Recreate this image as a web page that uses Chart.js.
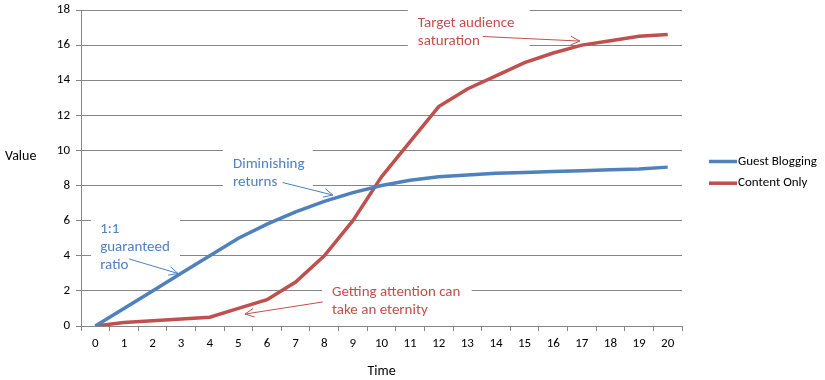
<!DOCTYPE html>
<html><head><meta charset="utf-8">
<script src="https://cdn.jsdelivr.net/npm/chart.js@4.4.0/dist/chart.umd.min.js"></script>
<style>html,body{margin:0;padding:0;background:#fff;}#wrap{width:825px;height:380px;position:relative;}</style>
</head><body><div id="wrap"><canvas id="c"></canvas></div>
<script>
// ---- data ----
const timeLabels = ['0','1','2','3','4','5','6','7','8','9','10','11','12','13','14','15','16','17','18','19','20'];
const seriesNames = ['Guest Blogging', 'Content Only'];
const guestBlogging = [0, 1, 2, 3, 4, 5, 5.8, 6.5, 7.1, 7.6, 8.0, 8.3, 8.5, 8.6, 8.7, 8.75, 8.8, 8.85, 8.9, 8.95, 9.05];
const contentOnly = [0, 0.2, 0.3, 0.4, 0.5, 1.0, 1.5, 2.5, 4.0, 6.0, 8.5, 10.5, 12.5, 13.5, 14.25, 15.0, 15.55, 16.0, 16.25, 16.5, 16.6];
const yMin = 0, yMax = 18, yStep = 2;
const axisTitles = {x: 'Time', y: 'Value'};

const BLUE = '#4F81BD', RED = '#C0504D', GRID = '#868686';
const FONT = "Carlito, Lato, 'Open Sans', sans-serif";

// annotations in data coordinates (x: category index, y: value)
const annotations = [
  {lines:['Target audience','saturation'], color:RED, text:[11.27, 17.26],
   box:[10.92, 18.34, 15.18, 15.66], arrow:[13.54, 16.49, 16.93, 16.23]},
  {lines:['Diminishing','returns'], color:BLUE, text:[4.81, 9.23],
   box:[4.46, 10.31, 7.60, 7.46], arrow:[6.55, 8.17, 8.30, 7.46]},
  {lines:['1:1','guaranteed','ratio'], color:BLUE, text:[0.17, 5.53],
   box:[-0.15, 6.38, 2.96, 2.96], arrow:[1.18, 3.82, 2.89, 2.99]},
  {lines:['Getting attention can','take an eternity'], color:RED, text:[8.27, 1.91],
   box:[7.92, 2.45, 13.15, 0.23], arrow:[7.95, 1.37, 5.23, 0.68]}
];

function px(chart, i){ const s = chart.scales.x; const w = (s.right - s.left) / timeLabels.length; return s.left + w/2 + i*w; }
function py(chart, v){ return chart.scales.y.getPixelForValue(v); }

const annotPlugin = {
  id: 'annot',
  beforeDatasetsDraw(chart){
    const ctx = chart.ctx; ctx.save(); ctx.fillStyle = '#fff';
    annotations.forEach(a => {
      const x0 = px(chart,a.box[0]), y0 = py(chart,a.box[1]), x1 = px(chart,a.box[2]), y1 = py(chart,a.box[3]);
      ctx.fillRect(x0, y0, x1-x0, y1-y0);
    });
    ctx.restore();
  },
  afterDatasetsDraw(chart){
    const ctx = chart.ctx; ctx.save();
    annotations.forEach(a => {
      ctx.fillStyle = a.color; ctx.font = '15px ' + FONT; ctx.textBaseline = 'middle'; ctx.textAlign = 'left';
      const tx = px(chart,a.text[0]), ty = py(chart,a.text[1]);
      a.lines.forEach((l,k) => ctx.fillText(l, tx, ty + k*18));
      const ax0 = px(chart,a.arrow[0]), ay0 = py(chart,a.arrow[1]), ax1 = px(chart,a.arrow[2]), ay1 = py(chart,a.arrow[3]);
      ctx.strokeStyle = a.color; ctx.lineWidth = 1;
      ctx.beginPath(); ctx.moveTo(ax0, ay0); ctx.lineTo(ax1, ay1); ctx.stroke();
      const ang = Math.atan2(ay1-ay0, ax1-ax0), L = 10, sp = 0.45;
      ctx.beginPath();
      ctx.moveTo(ax1 - L*Math.cos(ang-sp), ay1 - L*Math.sin(ang-sp));
      ctx.lineTo(ax1, ay1);
      ctx.lineTo(ax1 - L*Math.cos(ang+sp), ay1 - L*Math.sin(ang+sp));
      ctx.stroke();
    });
    ctx.restore();
  },
  afterDraw(chart){
    const ctx = chart.ctx, ca = chart.chartArea; ctx.save();
    // y-axis title (horizontal)
    ctx.fillStyle = '#000'; ctx.font = '14px ' + FONT; ctx.textBaseline = 'middle'; ctx.textAlign = 'left';
    ctx.fillText(axisTitles.y, 5, 156);
    // legend
    ctx.font = '13px ' + FONT;
    chart.data.datasets.forEach((ds, i) => {
      const y = 161.5 + i*21.7, x = ca.right + 27;
      ctx.strokeStyle = ds.borderColor; ctx.lineWidth = 3.5; ctx.lineCap = 'butt';
      ctx.beginPath(); ctx.moveTo(x, y); ctx.lineTo(x+28, y); ctx.stroke();
      ctx.fillStyle = '#000'; ctx.fillText(ds.label, x+29, y);
    });
    ctx.restore();
  }
};

new Chart(document.getElementById('c'), {
  type: 'line',
  data: {
    labels: timeLabels,
    datasets: [
      {label: seriesNames[0], data: guestBlogging, borderColor: BLUE, backgroundColor: BLUE, borderWidth: 3.5, pointRadius: 0, tension: 0},
      {label: seriesNames[1], data: contentOnly, borderColor: RED, backgroundColor: RED, borderWidth: 3.5, pointRadius: 0, tension: 0}
    ]
  },
  options: {
    responsive: true, maintainAspectRatio: false, animation: false, devicePixelRatio: 1,
    layout: {padding: {top: 10, right: 143, left: 0, bottom: 0}},
    plugins: {legend: {display: false}, tooltip: {enabled: false}},
    scales: {
      x: {
        type: 'category', offset: true,
        grid: {drawOnChartArea: false, drawTicks: true, tickLength: 5, color: GRID, offset: true},
        border: {color: GRID},
        ticks: {color: '#000', font: {family: FONT, size: 13}, padding: 5, maxRotation: 0, autoSkip: false},
        title: {display: true, text: axisTitles.x, color: '#000', font: {family: FONT, size: 14}, padding: {top: 0, bottom: 0}},
        afterFit(s){ s.height = 54; s.paddingLeft = 0; s.paddingRight = 0; }
      },
      y: {
        min: yMin, max: yMax,
        grid: {color: GRID, tickLength: 5},
        border: {color: GRID},
        ticks: {stepSize: yStep, color: '#000', font: {family: FONT, size: 13}, padding: 6},
        afterFit(s){ s.width = 81; s.paddingTop = 0; s.paddingBottom = 0; }
      }
    }
  },
  plugins: [annotPlugin]
});
</script>
</body></html>
